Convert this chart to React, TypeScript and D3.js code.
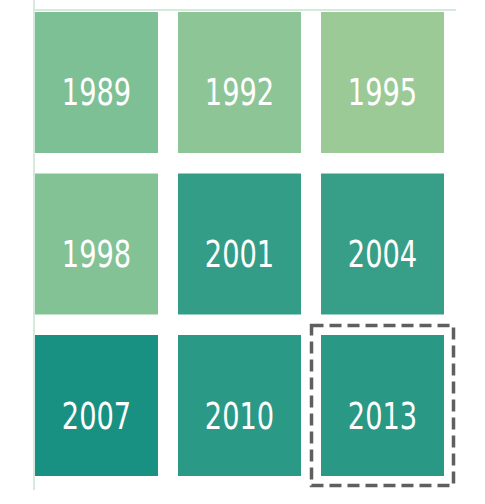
import React, { useEffect, useRef } from 'react'
import { select, scaleBand, scaleLinear } from 'd3'

// cells, read left->right, top->bottom
const years = ['1989', '1992', '1995', '1998', '2001', '2004', '2007', '2010', '2013']
const values = [30, 20, 10, 27, 78, 76, 95, 84, 85]
const cols = ['0', '1', '2']
const rows = ['0', '1', '2']
const highlighted = ['2013']

const App = () => {
    const container = useRef<SVGSVGElement | null>(null)

    useEffect(() => {
        document.body.style.margin = '0'
        drawGrid()
    }, [])

    const drawGrid = () => {
        const width = 485
        const height = 504

        const svg = select(container.current)
            .attr('width', width)
            .attr('height', height)

        const xScale = scaleBand().domain(cols).range([35, 444]).paddingInner(0.14)
        const yScale = scaleBand().domain(rows).range([12, 476]).paddingInner(0.127)

        const color = scaleLinear<string>()
            .domain([10, 30, 95])
            .range(['#9bca97', '#7ec095', '#199182'])
            .clamp(true)

        const data = years.map((y, i) => ({
            year: y,
            value: values[i],
            col: cols[i % 3],
            row: rows[Math.floor(i / 3)]
        }))

        // frame lines
        svg.selectAll('.frame-v').data([0]).join('line')
            .attr('class', 'frame-v')
            .attr('x1', 34).attr('x2', 34)
            .attr('y1', 0).attr('y2', 490)
            .attr('stroke', '#d6e9dd')
            .attr('stroke-width', 2)

        svg.selectAll('.frame-h').data([0]).join('line')
            .attr('class', 'frame-h')
            .attr('x1', 34).attr('x2', 456)
            .attr('y1', 10).attr('y2', 10)
            .attr('stroke', '#d6e9dd')
            .attr('stroke-width', 2)

        svg.selectAll('.cell').data(data, (d: any) => d.year).join('rect')
            .attr('class', 'cell')
            .attr('x', d => xScale(d.col)!)
            .attr('y', d => yScale(d.row)!)
            .attr('width', xScale.bandwidth())
            .attr('height', yScale.bandwidth())
            .attr('fill', d => color(d.value))

        // narrow digits: squeeze the condensed face horizontally
        svg.selectAll('.label').data(data, (d: any) => d.year).join('text')
            .attr('class', 'label')
            .attr('transform', d => {
                const cx = xScale(d.col)! + xScale.bandwidth() / 2
                const cy = yScale(d.row)! + yScale.bandwidth() / 2 + 23
                return `translate(${cx}, ${cy}) scale(0.82, 1)`
            })
            .attr('text-anchor', 'middle')
            .attr('fill', '#ffffff')
            .attr('font-family', '"DejaVu Sans Condensed", "Liberation Sans Narrow", sans-serif')
            .attr('font-size', 37)
            .text(d => d.year)

        // dashed highlight box
        const pad = 9.5
        svg.selectAll('.highlight').data(data.filter(d => highlighted.includes(d.year))).join('rect')
            .attr('class', 'highlight')
            .attr('x', d => xScale(d.col)! - pad)
            .attr('y', d => yScale(d.row)! - pad)
            .attr('width', xScale.bandwidth() + pad * 2)
            .attr('height', yScale.bandwidth() + pad * 2)
            .attr('fill', 'none')
            .attr('stroke', '#5f5f5f')
            .attr('stroke-width', 3.5)
            .attr('stroke-dasharray', '12 6')
    }

    return <svg ref={container}></svg>
}

export default App
